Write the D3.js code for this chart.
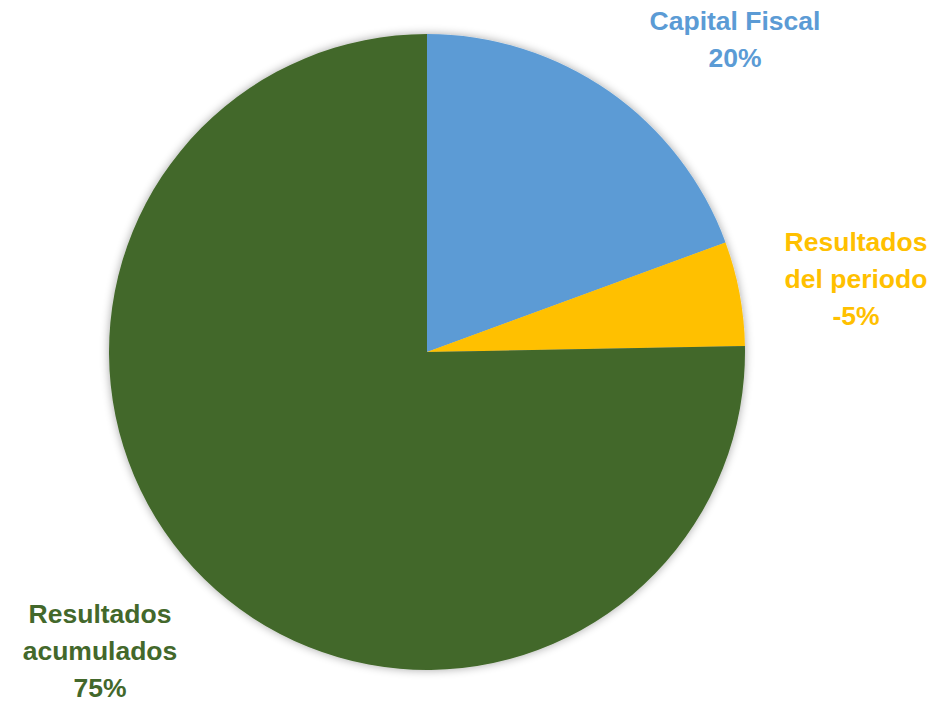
<!DOCTYPE html>
<html lang="en">
<head>
    <meta charset="UTF-8">
    <title>Capital contable</title>
    <script src="https://d3js.org/d3.v7.min.js"></script>
    <style>
        body { margin: 0; background: #fff; }
        .label { font-family: "Liberation Sans", Arial, sans-serif; font-weight: bold; font-size: 26.5px; }
    </style>
</head>
<body>
    <script>
        // Slice data (pie sizes, labels as printed)
        const categories = ["Capital Fiscal", "Resultados del periodo", "Resultados acumulados"];
        const values = [19.4, 5.3, 75.3];
        const percentLabels = ["20%", "-5%", "75%"];
        const labelLines = [["Capital Fiscal"], ["Resultados", "del periodo"], ["Resultados", "acumulados"]];
        const colors = ["#5B9BD5", "#FFC000", "#43682B"];

        const width = 945, height = 707;
        const cx = 427, cy = 352, radius = 318;

        // label anchor positions (center x, first baseline y)
        const labelPos = [[735, 30], [856, 251], [100, 623]];
        const lineHeight = 37;

        const svg = d3.select("body").append("svg")
            .attr("width", width)
            .attr("height", height);

        // soft shadow round the pie
        const filter = svg.append("defs").append("filter")
            .attr("id", "shadow")
            .attr("x", "-10%").attr("y", "-10%")
            .attr("width", "120%").attr("height", "120%");
        filter.append("feGaussianBlur").attr("in", "SourceAlpha").attr("stdDeviation", 5).attr("result", "blur");
        filter.append("feComponentTransfer").attr("in", "blur").attr("result", "fade")
            .append("feFuncA").attr("type", "linear").attr("slope", 0.35);
        const merge = filter.append("feMerge");
        merge.append("feMergeNode").attr("in", "fade");
        merge.append("feMergeNode").attr("in", "SourceGraphic");

        const data = categories.map((c, i) => ({ name: c, value: values[i], i }));

        const pie = d3.pie().sort(null).value(d => d.value);
        const arc = d3.arc().innerRadius(0).outerRadius(radius);

        const g = svg.append("g")
            .attr("transform", `translate(${cx},${cy})`)
            .attr("filter", "url(#shadow)");

        g.selectAll("path")
            .data(pie(data))
            .enter()
            .append("path")
            .attr("d", arc)
            .attr("fill", d => colors[d.data.i]);

        // labels
        data.forEach((d, i) => {
            const lines = labelLines[i].concat([percentLabels[i]]);
            const t = svg.append("text")
                .attr("class", "label")
                .attr("fill", colors[i])
                .attr("text-anchor", "middle");
            lines.forEach((line, j) => {
                t.append("tspan")
                    .attr("x", labelPos[i][0])
                    .attr("y", labelPos[i][1] + j * lineHeight)
                    .text(line);
            });
        });
    </script>
</body>
</html>
